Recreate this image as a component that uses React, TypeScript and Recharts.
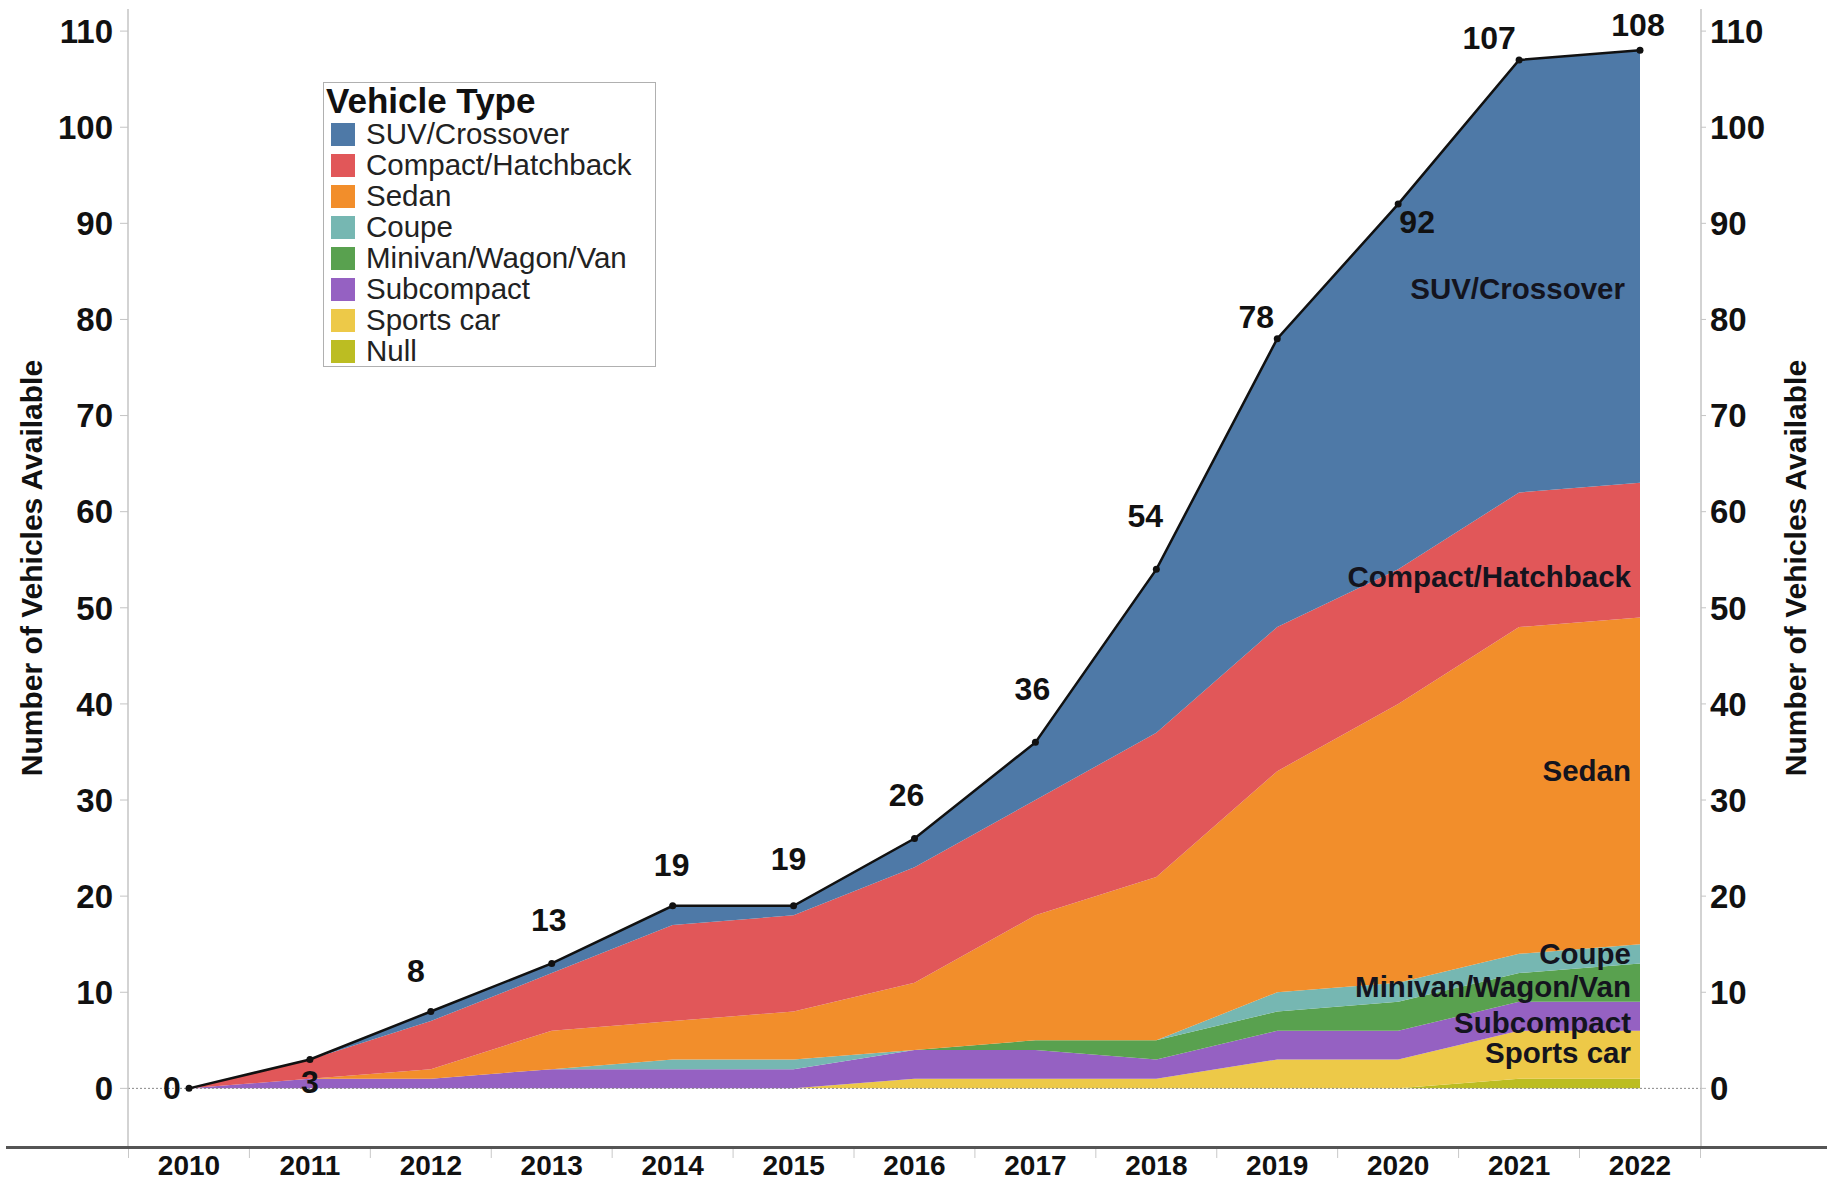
import React from 'react';
import { ComposedChart, Area, Line, XAxis, YAxis, ReferenceLine, ReferenceDot, Legend } from 'recharts';

const FONT = "'Liberation Sans', Arial, sans-serif";

const years = ['2010', '2011', '2012', '2013', '2014', '2015', '2016', '2017', '2018', '2019', '2020', '2021', '2022'];

// stacked from bottom to top
const nullVals = [0, 0, 0, 0, 0, 0, 0, 0, 0, 0, 0, 1, 1];
const sportsCar = [0, 0, 0, 0, 0, 0, 1, 1, 1, 3, 3, 5, 5];
const subcompact = [0, 1, 1, 2, 2, 2, 3, 3, 2, 3, 3, 3, 3];
const minivan = [0, 0, 0, 0, 0, 0, 0, 1, 2, 2, 3, 3, 4];
const coupe = [0, 0, 0, 0, 1, 1, 0, 0, 0, 2, 2, 2, 2];
const sedan = [0, 0, 1, 4, 4, 5, 7, 13, 17, 23, 29, 34, 34];
const compact = [0, 2, 5, 6, 10, 10, 12, 12, 15, 15, 14, 14, 14];
const suv = [0, 0, 1, 1, 2, 1, 3, 6, 17, 30, 38, 45, 45];

const totals = [0, 3, 8, 13, 19, 19, 26, 36, 54, 78, 92, 107, 108];

const yTicks = [0, 10, 20, 30, 40, 50, 60, 70, 80, 90, 100, 110];

const series = [
  { key: 'nullV', name: 'Null', color: '#bcbd22', values: nullVals, label: false },
  { key: 'sports', name: 'Sports car', color: '#edc948', values: sportsCar, label: true },
  { key: 'subcompact', name: 'Subcompact', color: '#9561c2', values: subcompact, label: true },
  { key: 'minivan', name: 'Minivan/Wagon/Van', color: '#59a14f', values: minivan, label: true },
  { key: 'coupe', name: 'Coupe', color: '#76b7b2', values: coupe, label: true },
  { key: 'sedan', name: 'Sedan', color: '#f28e2b', values: sedan, label: true },
  { key: 'compact', name: 'Compact/Hatchback', color: '#e15759', values: compact, label: true },
  { key: 'suv', name: 'SUV/Crossover', color: '#4e79a7', values: suv, label: true },
];

const data = years.map((year, i) => {
  const row: any = { year, total: totals[i] };
  series.forEach((s) => {
    row[s.key] = s.values[i];
  });
  return row;
});

// label vertical nudges (px) for in-chart series labels
const seriesLabelDy: Record<string, number> = {
  suv: 22,
  compact: 26,
  sedan: -10,
  coupe: 0,
  minivan: 4,
  subcompact: 6,
  sports: -2,
};
const seriesLabelDx: Record<string, number> = {
  suv: -6,
};

const last = years.length - 1;
const seriesMids = (() => {
  let base = 0;
  return series.map((s) => {
    const v = s.values[last];
    const mid = base + v / 2;
    base += v;
    return { ...s, mid };
  });
})();

const totalLabelOffsets: Record<number, [number, number]> = {
  0: [-17, 0],
  1: [0, 22],
  2: [-15, -40],
  3: [-3, -43],
  4: [-1, -41],
  5: [-5, -47],
  6: [-8, -43],
  7: [-3, -53],
  8: [-11, -53],
  9: [-21, -22],
  10: [19, 18],
  11: [-30, -22],
  12: [-2, -25],
};

const renderTotalLabel = (props: any) => {
  const { x, y, value, index } = props;
  const off = totalLabelOffsets[index] || [0, -40];
  return (
    <text
      x={x + off[0]}
      y={y + off[1]}
      textAnchor="middle"
      dominantBaseline="central"
      fontFamily={FONT}
      fontWeight="bold"
      fontSize={32}
      fill="#111"
    >
      {value}
    </text>
  );
};

const XTick = (props: any) => {
  const { x, y, payload, index } = props;
  const half = 60.5;
  return (
    <g>
      <line x1={x - half} x2={x - half} y1={y} y2={y + 11} stroke="#c8c8c8" strokeWidth={1} />
      {index === years.length - 1 && (
        <line x1={x + half} x2={x + half} y1={y} y2={y + 11} stroke="#c8c8c8" strokeWidth={1} />
      )}
      <text
        x={x}
        y={y + 18}
        textAnchor="middle"
        dominantBaseline="central"
        fontFamily={FONT}
        fontWeight="bold"
        fontSize={28}
        fill="#111"
      >
        {payload.value}
      </text>
    </g>
  );
};

const renderLegend = () => {
  const items = [...series].reverse();
  return (
    <div
      style={{
        width: 333,
        height: 285,
        border: '1px solid #b0b0b0',
        boxSizing: 'border-box',
        background: '#fff',
        position: 'relative',
        fontFamily: FONT,
        color: '#111',
      }}
    >
      <div
        style={{
          position: 'absolute',
          left: 2,
          top: -1,
          fontSize: 35,
          fontWeight: 'bold',
          lineHeight: '38px',
          whiteSpace: 'nowrap',
        }}
      >
        Vehicle Type
      </div>
      {items.map((s, i) => (
        <div key={s.key} style={{ position: 'absolute', left: 0, top: 51 + 31 * i - 15, height: 30, width: 330 }}>
          <div style={{ position: 'absolute', left: 7, top: 4, width: 24, height: 23, background: s.color }} />
          <div
            style={{
              position: 'absolute',
              left: 42,
              top: 0,
              fontSize: 29.5,
              lineHeight: '30px',
              whiteSpace: 'nowrap',
              color: '#222',
            }}
          >
            {s.name}
          </div>
        </div>
      ))}
    </div>
  );
};

const renderYTitle = (offsetX: number) => (props: any) => {
  const vb = props.viewBox || { x: 0, y: 0, width: 0, height: 0 };
  const cx = vb.x + offsetX;
  const cy = vb.y + vb.height / 2 - 10;
  return (
    <text
      x={cx}
      y={cy}
      transform={`rotate(-90, ${cx}, ${cy})`}
      textAnchor="middle"
      dominantBaseline="central"
      fontFamily={FONT}
      fontWeight="bold"
      fontSize={30}
      fill="#111"
    >
      Number of Vehicles Available
    </text>
  );
};

const makeSeriesLabel = (name: string, dx: number, dy: number) => (props: any) => {
  const vb = props.viewBox || { x: 0, y: 0, width: 0, height: 0 };
  const cx = vb.x + vb.width / 2;
  const cy = vb.y + vb.height / 2;
  return (
    <text
      x={cx - 9 + dx}
      y={cy + dy}
      textAnchor="end"
      dominantBaseline="central"
      fontFamily={FONT}
      fontWeight="bold"
      fontSize={29.5}
      fill="#14141e"
    >
      {name}
    </text>
  );
};

const yTickStyle = { fontFamily: FONT, fontWeight: 'bold' as const, fontSize: 33, fill: '#111' };

export default function App() {
  return (
    <div
      style={{
        position: 'absolute',
        left: 0,
        top: 0,
        width: 1827,
        height: 1179,
        background: '#fff',
        fontFamily: FONT,
        overflow: 'hidden',
      }}
    >
      <ComposedChart width={1827} height={1179} data={data} margin={{ top: 9, right: 0, bottom: 0, left: 0 }}>
        <XAxis
          dataKey="year"
          height={32}
          padding={{ left: 61, right: 61 }}
          axisLine={false}
          tickLine={false}
          tickSize={0}
          tickMargin={0}
          interval={0}
          tick={<XTick />}
        />
        <YAxis
          yAxisId="left"
          width={128}
          domain={[-6.1, 112.3]}
          allowDataOverflow
          ticks={yTicks}
          interval={0}
          axisLine={{ stroke: '#c4c4c4', strokeWidth: 1.5 }}
          tickLine={{ stroke: '#c4c4c4' }}
          tickSize={8}
          tickMargin={7}
          tick={yTickStyle}
          label={renderYTitle(31)}
        />
        <YAxis
          yAxisId="right"
          orientation="right"
          width={126}
          domain={[-6.1, 112.3]}
          allowDataOverflow
          ticks={yTicks}
          interval={0}
          axisLine={{ stroke: '#c4c4c4', strokeWidth: 1.5 }}
          tickLine={{ stroke: '#c4c4c4' }}
          tickSize={5}
          tickMargin={4}
          tick={yTickStyle}
          label={renderYTitle(94)}
        />
        <ReferenceLine yAxisId="left" y={0} stroke="#888" strokeDasharray="2 2" strokeWidth={1} />
        {series.map((s) => (
          <Area
            key={s.key}
            yAxisId="left"
            type="linear"
            dataKey={s.key}
            name={s.name}
            stackId="vehicles"
            stroke="none"
            fill={s.color}
            fillOpacity={1}
            isAnimationActive={false}
            activeDot={false}
          />
        ))}
        <Line
          yAxisId="left"
          type="linear"
          dataKey="total"
          name="Total"
          stroke="#111"
          strokeWidth={2.5}
          dot={{ r: 3.5, fill: '#111', stroke: '#111', strokeWidth: 0 }}
          activeDot={false}
          isAnimationActive={false}
          label={renderTotalLabel}
        />
        {seriesMids
          .filter((s) => s.label)
          .map((s) => (
            <ReferenceDot
              key={'lbl-' + s.key}
              yAxisId="left"
              x={years[last]}
              y={s.mid}
              r={1}
              fill="none"
              stroke="none"
              label={makeSeriesLabel(s.name, seriesLabelDx[s.key] || 0, seriesLabelDy[s.key] || 0)}
            />
          ))}
        <Legend
          layout="vertical"
          align="center"
          verticalAlign="middle"
          content={renderLegend}
          wrapperStyle={{ left: 323, top: 82, width: 333, height: 285 }}
        />
      </ComposedChart>
      <div style={{ position: 'absolute', left: 6, top: 1146, width: 1821, height: 2.5, background: '#555' }} />
    </div>
  );
}
